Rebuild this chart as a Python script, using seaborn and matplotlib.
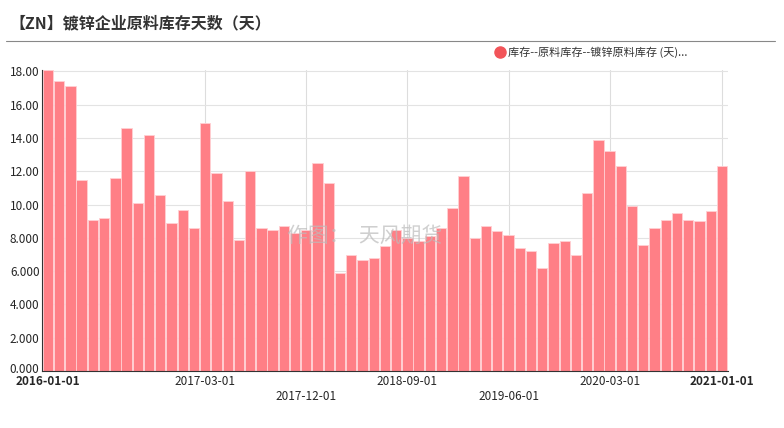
import matplotlib
matplotlib.use('Agg')
import matplotlib.pyplot as plt
import matplotlib.transforms as mtransforms
import seaborn as sns
import pandas as pd

months = pd.date_range('2016-01-01', '2021-01-01', freq='MS').strftime('%Y-%m-%d').tolist()
values = [18.1, 17.4, 17.1, 11.5, 9.1, 9.2, 11.6, 14.6, 10.1, 14.2, 10.6, 8.9, 9.7, 8.6,
          14.9, 11.9, 10.2, 7.9, 12.0, 8.6, 8.5, 8.7, 8.3, 8.5, 12.5, 11.3, 5.9, 7.0, 6.7,
          6.8, 7.5, 8.5, 8.0, 7.8, 8.1, 8.6, 9.8, 11.7, 8.0, 8.7, 8.4, 8.2, 7.4, 7.2, 6.2,
          7.7, 7.8, 7.0, 10.7, 13.9, 13.2, 12.3, 9.9, 7.6, 8.6, 9.1, 9.5, 9.1, 9.0, 9.6, 12.3]
tick_dates = ['2016-01-01', '2017-03-01', '2017-12-01', '2018-09-01', '2019-06-01',
              '2020-03-01', '2021-01-01']
legend_label = '库存--原料库存--镀锌原料库存 (天)...'
title = '【ZN】镀锌企业原料库存天数（天）'

sns.set_style('white')
plt.rcParams['font.family'] = ['Noto Sans CJK SC', 'DejaVu Sans']

df = pd.DataFrame({'date': months, 'value': values})
fig = plt.figure(figsize=(7.84, 4.28), dpi=100)
ax = fig.add_axes([0.054, 0.133, 0.874, 0.704])

idx = [months.index(d) for d in tick_dates]
for i in idx:
    ax.axvline(i, color='#dddddd', lw=0.8, zorder=0)
for y in range(2, 20, 2):
    ax.axhline(y, color='#e3e3e3', lw=0.8, zorder=0)

sns.barplot(data=df, x='date', y='value', color='#ff7f86', saturation=1, width=0.92,
            edgecolor='#ffd0d3', linewidth=0.6, ax=ax, zorder=2)
ax.set_xlim(-0.5, len(months) - 0.5)
ax.set_ylim(0, 18.1)
ax.set_yticks(range(0, 19, 2))
ax.set_yticklabels([f'{v:.3f}' if v < 10 else f'{v:.2f}' for v in range(0, 19, 2)], fontsize=8.5)
ax.set_xticks(idx)
labels = ax.set_xticklabels(tick_dates, fontsize=8.5)
for k, lab in enumerate(labels):
    if k in (0, len(labels) - 1):
        lab.set_fontweight('bold')
    if k in (2, 4):
        lab.set_y(-0.05)
ax.tick_params(axis='y', length=0, pad=2)
ax.tick_params(axis='x', length=0, pad=3)
ax.set_xlabel('')
ax.set_ylabel('')
for s in ['top', 'right']:
    ax.spines[s].set_visible(False)
ax.spines['left'].set_color('#333333')
ax.spines['bottom'].set_color('#333333')

# nudge the zero label up a little so it clears the first date label
zero_lab = ax.get_yticklabels()[0]
zero_lab.set_transform(zero_lab.get_transform() +
                       mtransforms.ScaledTranslation(0, 2.5 / 72, fig.dpi_scale_trans))

ax.text(0.47, 0.45, '作图：  天风期货', transform=ax.transAxes, fontsize=15,
        color='#bbbbbb', alpha=0.7, ha='center', va='center')

fig.text(0.012, 0.945, title, fontsize=11.5, fontweight='bold', color='#333333', va='center')
fig.add_artist(plt.Line2D([0.008, 0.988], [0.905, 0.905], color='#888888', lw=0.8))
fig.add_artist(plt.Line2D([0.638], [0.878], marker='o', markersize=8, color='#f25459'))
fig.text(0.648, 0.878, legend_label, fontsize=8, color='#333333', va='center')

fig.savefig('out.png', dpi=100)
